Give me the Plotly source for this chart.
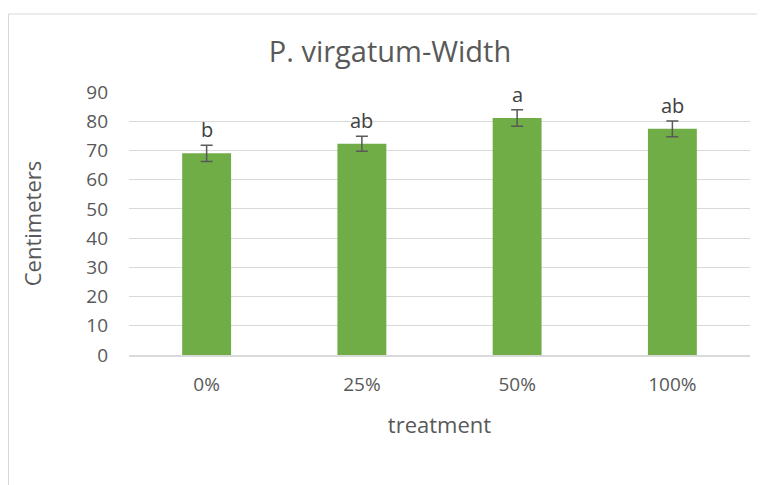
import plotly.graph_objects as go

categories = ["0%", "25%", "50%", "100%"]
values = [69.0, 72.3, 81.1, 77.4]
errors = [2.8, 2.6, 2.8, 2.7]
letters = ["b", "ab", "a", "ab"]
y_ticks = [0, 10, 20, 30, 40, 50, 60, 70, 80, 90]

GRAY = "#595959"
FONT = "Open Sans"

# page body has an 8px margin; compensate in the layout
OFF = 8
L, T, R, B = 129 - OFF, 92 - OFF, 765 - (750 - OFF), 485 - (355 - OFF)
PW, PH = 765 - L - R, 485 - T - B

fig = go.Figure()
fig.add_trace(go.Bar(
    x=categories, y=values,
    marker=dict(color="#70ad47", line=dict(width=0)),
    error_y=dict(type="data", array=errors, visible=True, color=GRAY, thickness=1.5, width=6),
    width=0.315,
))

for c, v, e, t in zip(categories, values, errors, letters):
    fig.add_annotation(x=c, y=v + e, text=t, showarrow=False, yanchor="bottom", yshift=0,
                       font=dict(family=FONT, size=20, color="#404040"))

fig.add_shape(type="rect", xref="paper", yref="paper",
              x0=(0.5 - L) / PW, x1=1.3, y0=-1.0, y1=(485 - B - (14 - OFF)) / PH,
              line=dict(color="#d9d9d9", width=1), fillcolor="rgba(0,0,0,0)", layer="below")

fig.update_layout(
    width=765, height=485,
    margin=dict(l=L, r=R, t=T, b=B),
    paper_bgcolor="white", plot_bgcolor="white",
    showlegend=False,
    title=dict(text="P. virgatum-Width", x=(390 - OFF - L) / PW, xref="paper", xanchor="center",
               y=1 - (52 - OFF) / 485, yanchor="middle",
               font=dict(family=FONT, size=29, color=GRAY)),
    xaxis=dict(
        title=dict(text="treatment", font=dict(family=FONT, size=22, color=GRAY), standoff=22),
        tickfont=dict(family=FONT, size=19, color=GRAY),
        showline=True, linecolor="#d9d9d9", linewidth=1.5,
        ticks="", ticklabelstandoff=11,
    ),
    yaxis=dict(
        title=dict(text="Centimeters", font=dict(family=FONT, size=22, color=GRAY), standoff=38),
        tickfont=dict(family=FONT, size=19, color=GRAY),
        range=[0, 90], tickvals=y_ticks,
        showgrid=True, gridcolor="#d9d9d9", gridwidth=1.3,
        zeroline=False, ticks="", ticklabelstandoff=20,
    ),
)

fig.write_html("out.html")
